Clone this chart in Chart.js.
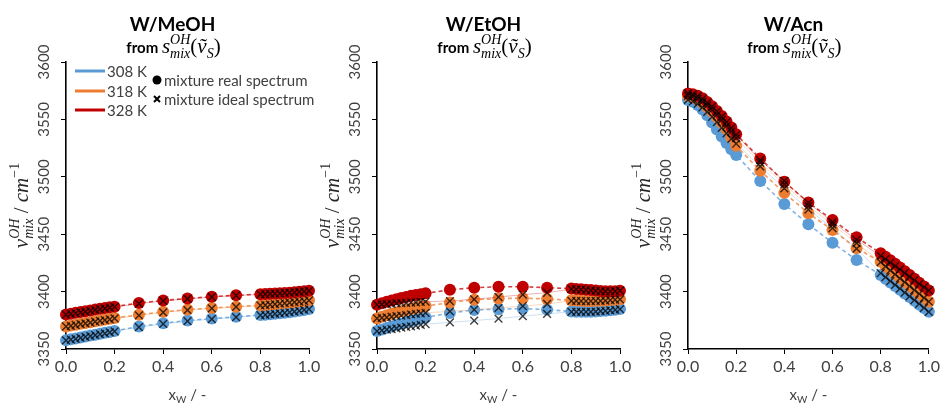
<!DOCTYPE html>
<html>
<head>
<meta charset="utf-8">
<title>OH stretching band position in water mixtures</title>
<script src="https://cdn.jsdelivr.net/npm/chart.js@4.4.1/dist/chart.umd.min.js"></script>
<style>
  html, body { margin: 0; background: #fff; }
  #wrap { position: relative; width: 943px; height: 403px; }
  #wrap canvas { position: absolute; left: 0; top: 0; }
</style>
</head>
<body>
<div id="wrap">
  <canvas id="panel0" width="943" height="403"></canvas>
  <canvas id="panel1" width="943" height="403"></canvas>
  <canvas id="panel2" width="943" height="403"></canvas>
</div>
<script>
// water mole fraction of every sample
const XW = [0, 0.02, 0.04, 0.06, 0.08, 0.1, 0.12, 0.14, 0.16, 0.18, 0.2,
  0.3, 0.4, 0.5, 0.6, 0.7,
  0.8, 0.82, 0.84, 0.86, 0.88, 0.9, 0.92, 0.94, 0.96, 0.98, 1];

const TEMPS = ['308 K', '318 K', '328 K'];
const PANEL_TITLES = ['W/MeOH', 'W/EtOH', 'W/Acn'];

// W/MeOH
const meohReal308 = [3357.6, 3358.4, 3359.2, 3360.0, 3360.9, 3361.7, 3362.5, 3363.3, 3364.1, 3364.9, 3365.7, 3369.6, 3372.4, 3374.8, 3376.5, 3378.0, 3379.6, 3379.9, 3380.3, 3380.7, 3381.1, 3381.6, 3382.1, 3382.7, 3383.3, 3384.0, 3384.8];
const meohReal318 = [3369.6, 3370.4, 3371.2, 3371.9, 3372.7, 3373.4, 3374.2, 3374.9, 3375.6, 3376.3, 3377.0, 3379.8, 3382.4, 3384.3, 3385.7, 3386.9, 3388.0, 3388.4, 3388.8, 3389.2, 3389.6, 3390.0, 3390.4, 3390.8, 3391.3, 3391.8, 3392.4];
const meohReal328 = [3380.0, 3380.8, 3381.5, 3382.2, 3382.9, 3383.6, 3384.3, 3385.0, 3385.7, 3386.3, 3386.9, 3390.0, 3392.3, 3394.0, 3395.6, 3396.8, 3397.7, 3397.9, 3398.1, 3398.3, 3398.5, 3398.8, 3399.1, 3399.4, 3399.8, 3400.2, 3400.7];
const meohIdeal308 = [3357.6, 3358.2, 3358.9, 3359.7, 3360.5, 3361.3, 3362.1, 3362.9, 3363.7, 3364.5, 3365.3, 3369.0, 3371.9, 3374.3, 3376.1, 3377.7, 3379.4, 3379.8, 3380.2, 3380.6, 3381.0, 3381.5, 3382.0, 3382.6, 3383.2, 3384.0, 3384.8];
const meohIdeal318 = [3369.6, 3370.2, 3370.9, 3371.6, 3372.3, 3373.0, 3373.8, 3374.5, 3375.2, 3375.9, 3376.6, 3379.3, 3381.9, 3383.9, 3385.4, 3386.7, 3387.9, 3388.3, 3388.7, 3389.1, 3389.5, 3389.9, 3390.4, 3390.8, 3391.3, 3391.8, 3392.4];
const meohIdeal328 = [3380.0, 3380.6, 3381.2, 3381.9, 3382.6, 3383.3, 3384.0, 3384.7, 3385.4, 3386.0, 3386.6, 3389.5, 3391.9, 3393.7, 3395.3, 3396.6, 3397.6, 3397.8, 3398.0, 3398.2, 3398.5, 3398.8, 3399.1, 3399.4, 3399.8, 3400.2, 3400.7];

// W/EtOH
const etohReal308 = [3365.6, 3367.0, 3368.4, 3369.7, 3370.9, 3372.1, 3373.2, 3374.3, 3375.4, 3376.5, 3377.5, 3381.4, 3384.0, 3384.7, 3385.2, 3384.3, 3382.7, 3382.5, 3382.4, 3382.4, 3382.5, 3382.7, 3383.0, 3383.3, 3383.7, 3384.2, 3384.8];
const etohReal318 = [3376.6, 3378.0, 3379.4, 3380.7, 3381.9, 3383.0, 3384.0, 3385.0, 3385.9, 3386.7, 3387.5, 3390.4, 3393.0, 3393.9, 3394.3, 3393.6, 3392.4, 3392.2, 3392.0, 3391.9, 3391.9, 3392.0, 3392.1, 3392.3, 3392.6, 3392.9, 3393.3];
const etohReal328 = [3388.6, 3389.9, 3391.1, 3392.3, 3393.4, 3394.4, 3395.4, 3396.3, 3397.1, 3397.8, 3398.5, 3401.6, 3403.4, 3404.2, 3404.3, 3403.4, 3402.6, 3402.3, 3402.0, 3401.7, 3401.3, 3400.9, 3400.5, 3400.3, 3400.2, 3400.4, 3400.8];
const etohIdeal308 = [3365.6, 3366.2, 3366.8, 3367.4, 3368.0, 3368.6, 3369.2, 3369.8, 3370.4, 3371.0, 3371.6, 3373.2, 3374.8, 3376.5, 3378.6, 3380.6, 3382.4, 3382.3, 3382.3, 3382.3, 3382.4, 3382.6, 3382.9, 3383.2, 3383.6, 3384.1, 3384.8];
const etohIdeal318 = [3376.6, 3377.1, 3377.6, 3378.1, 3378.6, 3379.1, 3379.6, 3380.1, 3380.5, 3381.0, 3381.5, 3382.8, 3384.2, 3385.8, 3387.3, 3389.2, 3392.0, 3391.9, 3391.8, 3391.8, 3391.8, 3391.9, 3392.0, 3392.2, 3392.5, 3392.9, 3393.3];
const etohIdeal328 = [3388.6, 3388.9, 3389.1, 3389.4, 3389.7, 3389.9, 3390.2, 3390.5, 3390.7, 3391.0, 3391.2, 3391.8, 3393.3, 3395.3, 3397.3, 3399.0, 3402.2, 3402.0, 3401.7, 3401.4, 3401.1, 3400.7, 3400.4, 3400.2, 3400.1, 3400.4, 3400.8];

// W/Acn
const acnReal308 = [3567.0, 3565.4, 3562.6, 3558.6, 3553.6, 3547.4, 3541.3, 3535.2, 3529.4, 3524.0, 3519.0, 3496.3, 3476.3, 3458.6, 3442.6, 3427.5, 3414.5, 3411.2, 3408.0, 3404.8, 3401.6, 3398.4, 3395.2, 3392.0, 3388.8, 3385.6, 3382.4];
const acnReal318 = [3570.6, 3569.5, 3567.4, 3564.4, 3560.8, 3556.6, 3552.0, 3547.0, 3541.5, 3534.5, 3527.0, 3505.3, 3486.0, 3468.2, 3453.7, 3437.7, 3426.0, 3422.4, 3418.9, 3415.4, 3411.9, 3408.4, 3404.9, 3401.5, 3398.0, 3394.6, 3391.2];
const acnReal328 = [3572.6, 3572.0, 3570.6, 3568.4, 3565.2, 3561.4, 3557.4, 3553.0, 3548.1, 3542.9, 3537.0, 3516.0, 3495.6, 3477.6, 3462.4, 3447.3, 3433.4, 3430.4, 3427.3, 3424.2, 3421.0, 3417.7, 3414.4, 3411.1, 3407.7, 3404.4, 3401.0];
const acnIdeal308 = [3567.0, 3565.8, 3563.5, 3560.4, 3556.6, 3552.3, 3547.6, 3542.6, 3537.8, 3533.1, 3528.8, 3509.0, 3490.0, 3471.5, 3455.2, 3437.4, 3416.0, 3412.6, 3409.2, 3405.8, 3402.5, 3399.2, 3395.9, 3392.6, 3389.3, 3385.9, 3382.4];
const acnIdeal318 = [3570.6, 3569.8, 3568.0, 3565.4, 3562.2, 3558.4, 3554.2, 3549.6, 3544.6, 3539.3, 3533.6, 3512.3, 3493.4, 3474.6, 3458.4, 3442.3, 3425.6, 3422.0, 3418.5, 3415.0, 3411.6, 3408.2, 3404.8, 3401.4, 3398.0, 3394.6, 3391.2];
const acnIdeal328 = [3572.6, 3571.8, 3570.2, 3567.8, 3564.7, 3561.1, 3557.0, 3552.5, 3547.6, 3542.3, 3536.6, 3514.6, 3496.4, 3477.2, 3460.6, 3445.0, 3431.2, 3428.3, 3425.3, 3422.3, 3419.3, 3416.2, 3413.0, 3409.9, 3406.8, 3403.8, 3401.0];

const REAL = [
  [meohReal308, meohReal318, meohReal328],
  [etohReal308, etohReal318, etohReal328],
  [acnReal308, acnReal318, acnReal328]
];
const IDEAL = [
  [meohIdeal308, meohIdeal318, meohIdeal328],
  [etohIdeal308, etohIdeal318, etohIdeal328],
  [acnIdeal308, acnIdeal318, acnIdeal328]
];

const COLORS = ['#5B9BD5', '#ED7D31', '#C00000'];
const SANS = 'Lato, "Open Sans", sans-serif';
const SERIF = '"Liberation Serif", "DejaVu Serif", serif';
const TEXT_GRAY = '#404040';
const AXIS_LEFT = [66, 377, 688];
const AXIS_RIGHT = [309, 620, 931];
const AXIS_TOP = 62;
const AXIS_BOTTOM = 349;

function rgba(hex, alpha) {
  const n = parseInt(hex.slice(1), 16);
  return `rgba(${(n >> 16) & 255}, ${(n >> 8) & 255}, ${n & 255}, ${alpha})`;
}

// rich text: plain pieces advance x, {sup, sub} pieces are stacked at the same x
function layoutRun(ctx, run) {
  let x = 0;
  const items = [];
  run.forEach((p) => {
    ctx.font = p.font;
    if (p.sup !== undefined || p.sub !== undefined) {
      const a = p.sup ? ctx.measureText(p.sup).width : 0;
      const b = p.sub ? ctx.measureText(p.sub).width : 0;
      if (p.sup) items.push({ text: p.sup, font: p.font, x, dy: -(p.up || 0) });
      if (p.sub) items.push({ text: p.sub, font: p.font, x, dy: p.down || 0 });
      x += Math.max(a, b);
    } else {
      items.push({ text: p.text, font: p.font, x, dy: p.dy || 0 });
      x += ctx.measureText(p.text).width;
    }
  });
  return { items, width: x };
}

function drawRun(ctx, run, cx, baseline, angle) {
  ctx.save();
  ctx.translate(cx, baseline);
  ctx.rotate(angle || 0);
  ctx.textAlign = 'left';
  ctx.textBaseline = 'alphabetic';
  const { items, width } = layoutRun(ctx, run);
  items.forEach((item) => {
    ctx.font = item.font;
    ctx.fillText(item.text, item.x - width / 2, item.dy);
  });
  ctx.restore();
}

const subtitleRun = [
  { text: 'from ', font: `bold 15px ${SANS}` },
  { text: 's', font: `italic 21px ${SERIF}` },
  { sup: 'OH', sub: 'mix', font: `italic 14px ${SERIF}`, up: 9, down: 5 },
  { text: '(', font: `21px ${SERIF}` },
  { text: 'ṽ', font: `italic 21px ${SERIF}` },
  { sub: 'S', font: `italic 14px ${SERIF}`, down: 5 },
  { text: ')', font: `21px ${SERIF}` }
];

const yTitleRun = [
  { text: 'ν', font: `italic 21px ${SERIF}` },
  { sup: 'OH', sub: 'mix', font: `italic 14px ${SERIF}`, up: 9, down: 5 },
  { text: ' / ', font: `21px ${SERIF}` },
  { text: 'cm', font: `italic 21px ${SERIF}` },
  { sup: '−1', font: `14px ${SERIF}`, up: 9 }
];

const xTitleRun = [
  { text: 'x', font: `15px ${SANS}` },
  { sub: 'W', font: `10px ${SANS}`, down: 3 },
  { text: ' / -', font: `15px ${SANS}` }
];

function drawLegend(ctx, left) {
  const rows = [71, 91, 110];
  ctx.save();
  ctx.textAlign = 'left';
  ctx.textBaseline = 'middle';
  ctx.font = `15px ${SANS}`;
  TEMPS.forEach((label, i) => {
    ctx.strokeStyle = COLORS[i];
    ctx.lineWidth = 3;
    ctx.beginPath();
    ctx.moveTo(left + 9, rows[i]);
    ctx.lineTo(left + 39, rows[i]);
    ctx.stroke();
    ctx.fillStyle = TEXT_GRAY;
    ctx.fillText(label, left + 41, rows[i] + 1);
  });

  ctx.fillStyle = '#000';
  ctx.beginPath();
  ctx.arc(left + 91, 80, 4.5, 0, Math.PI * 2);
  ctx.fill();
  ctx.strokeStyle = '#000';
  ctx.lineWidth = 2;
  ctx.beginPath();
  ctx.moveTo(left + 88, 96);
  ctx.lineTo(left + 94, 102);
  ctx.moveTo(left + 94, 96);
  ctx.lineTo(left + 88, 102);
  ctx.stroke();
  ctx.fillStyle = TEXT_GRAY;
  ctx.fillText('mixture real spectrum', left + 98, 81);
  ctx.fillText('mixture ideal spectrum', left + 98, 100);
  ctx.restore();
}

const panelText = {
  id: 'panelText',
  afterDraw(chart, args, opts) {
    const { ctx, chartArea: area } = chart;
    const yScale = chart.scales.y;
    const mid = (area.left + area.right) / 2;

    ctx.save();
    ctx.fillStyle = '#000';
    ctx.textAlign = 'center';
    ctx.textBaseline = 'alphabetic';
    ctx.font = `bold 19px ${SANS}`;
    ctx.fillText(opts.title, mid - 15, 31);
    drawRun(ctx, subtitleRun, mid - 14, 53, 0);

    // vertical tick labels on the value axis
    ctx.fillStyle = TEXT_GRAY;
    ctx.font = `15px ${SANS}`;
    yScale.ticks.forEach((tick) => {
      const py = yScale.getPixelForValue(tick.value);
      ctx.save();
      ctx.translate(area.left - 22, py);
      ctx.rotate(-Math.PI / 2);
      ctx.textAlign = 'center';
      ctx.textBaseline = 'middle';
      ctx.fillText(String(tick.value), 0, 0);
      ctx.restore();
    });

    ctx.fillStyle = '#262626';
    drawRun(ctx, yTitleRun, area.left - 38, (area.top + area.bottom) / 2, -Math.PI / 2);
    ctx.fillStyle = TEXT_GRAY;
    drawRun(ctx, xTitleRun, mid, 400, 0);

    if (opts.legend) drawLegend(ctx, area.left);
    ctx.restore();
  }
};

function buildDatasets(p) {
  const sets = [];
  TEMPS.forEach((temp, i) => {
    sets.push({
      label: `${temp} real`,
      data: XW.map((x, k) => ({ x, y: REAL[p][i][k] })),
      borderColor: rgba(COLORS[i], 0.75),
      borderWidth: 1.6,
      borderDash: [4, 3],
      pointStyle: 'circle',
      pointRadius: 6,
      pointBackgroundColor: COLORS[i],
      pointBorderWidth: 0,
      clip: false,
      order: 3 - i
    });
    sets.push({
      label: `${temp} ideal`,
      data: XW.map((x, k) => ({ x, y: IDEAL[p][i][k] })),
      borderColor: rgba(COLORS[i], 0.3),
      borderWidth: 1,
      pointStyle: 'crossRot',
      pointRadius: 5.5,
      pointBorderColor: 'rgba(0, 0, 0, 0.75)',
      pointBorderWidth: 1.4,
      clip: false,
      order: 0
    });
  });
  return sets;
}

function crearPanel(p) {
  const canvas = document.getElementById(`panel${p}`);
  return new Chart(canvas, {
    type: 'line',
    data: { datasets: buildDatasets(p) },
    options: {
      responsive: false,
      animation: false,
      events: [],
      layout: {
        autoPadding: false,
        padding: {
          left: AXIS_LEFT[p] - 10,
          right: 943 - AXIS_RIGHT[p],
          top: AXIS_TOP,
          bottom: 403 - AXIS_BOTTOM - 30
        }
      },
      scales: {
        x: {
          type: 'linear',
          min: 0,
          max: 1,
          border: { color: '#000', width: 1.6 },
          grid: { drawOnChartArea: false, drawTicks: true, tickLength: 5, color: '#000' },
          ticks: {
            stepSize: 0.2,
            padding: 3,
            color: TEXT_GRAY,
            font: { family: SANS, size: 16 },
            callback: (value) => Number(value).toFixed(1)
          },
          afterFit: (scale) => { scale.height = 30; }
        },
        y: {
          min: 3350,
          max: 3600,
          border: { color: '#000', width: 1.6 },
          grid: { drawOnChartArea: false, drawTicks: true, tickLength: 5, color: '#000' },
          ticks: { stepSize: 50, display: false },
          afterFit: (scale) => { scale.width = 10; }
        }
      },
      plugins: {
        legend: { display: false },
        tooltip: { enabled: false },
        panelText: { title: PANEL_TITLES[p], legend: p === 0 }
      }
    },
    plugins: [panelText]
  });
}

PANEL_TITLES.forEach((title, p) => crearPanel(p));
</script>
</body>
</html>
